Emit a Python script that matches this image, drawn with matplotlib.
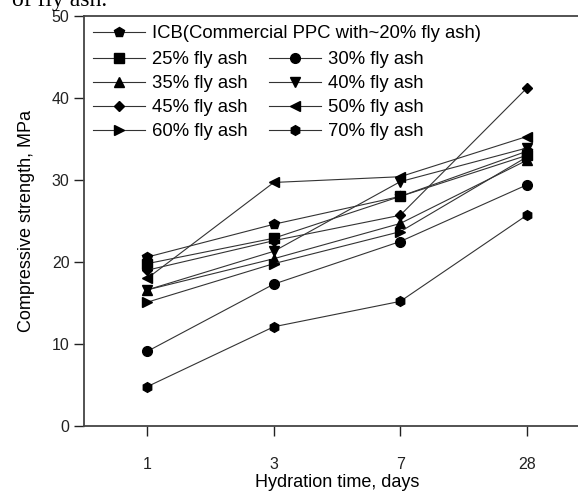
import matplotlib.pyplot as plt

# hydration time categories (days) and strength values (MPa)
days = ["1", "3", "7", "28"]

icb = [20.6, 24.6, 28.0, 33.5]
fa25 = [19.8, 22.9, 28.0, 33.0]
fa30 = [9.1, 17.3, 22.5, 29.4]
fa35 = [16.6, 20.4, 24.7, 32.4]
fa40 = [16.6, 21.3, 29.8, 33.9]
fa45 = [19.0, 22.6, 25.7, 41.2]
fa50 = [18.0, 29.7, 30.4, 35.3]
fa60 = [15.1, 19.8, 23.7, 32.8]
fa70 = [4.8, 12.1, 15.2, 25.7]

labels = ["ICB(Commercial PPC with~20% fly ash)", "25% fly ash", "30% fly ash",
          "35% fly ash", "40% fly ash", "45% fly ash", "50% fly ash",
          "60% fly ash", "70% fly ash"]
series = [icb, fa25, fa30, fa35, fa40, fa45, fa50, fa60, fa70]
markers = ["p", "s", "o", "^", "v", "D", "<", ">", "h"]

plt.rcParams['font.family'] = ['Liberation Sans', 'DejaVu Sans']

fig = plt.figure(figsize=(5.78, 4.93), dpi=100)
ax = fig.add_axes([84 / 578, 67 / 493, 506 / 578, 410 / 493])

x = list(range(len(days)))
handles = []
for vals, m, lab in zip(series, markers, labels):
    ms = 5.5 if m == "D" else 7
    h, = ax.plot(x, vals, color="#333333", lw=0.8, marker=m, ms=ms,
                 mfc="black", mec="black", label=lab)
    handles.append(h)

ax.set_xlim(-0.5, 3.5)
ax.set_ylim(0, 50)
ax.set_xticks(x)
ax.set_xticklabels(days)
ax.set_yticks([0, 10, 20, 30, 40, 50])
ax.tick_params(direction="out", length=7, width=1, labelsize=11.5, colors="#222222")
ax.tick_params(axis="x", pad=15)
for s in ["left", "bottom", "top", "right"]:
    ax.spines[s].set_color("#444444")
    ax.spines[s].set_linewidth(1.3)

ax.set_xlabel("Hydration time, days", fontsize=13, labelpad=2)
ax.set_ylabel("Compressive strength, MPa", fontsize=13, labelpad=12)

leg_kw = dict(frameon=False, fontsize=13.3, handlelength=2.8, handletextpad=0.4,
              borderpad=0, borderaxespad=0, labelspacing=0.38,
              bbox_transform=fig.transFigure, loc="upper left")
leg1 = ax.legend([handles[0]], [labels[0]], bbox_to_anchor=(93 / 578, 1 - 25 / 493), **leg_kw)
ax.add_artist(leg1)
order = [1, 3, 5, 7, 2, 4, 6, 8]
ax.legend([handles[i] for i in order], [labels[i] for i in order], ncol=2,
          columnspacing=1.15, bbox_to_anchor=(93 / 578, 1 - 51 / 493), **leg_kw)

# bottom of the caption line above the figure, cut off by the crop
fig.text(107 / 578, 1 - 6 / 493, "of fly ash.", ha="right", va="baseline",
         fontsize=17, family="Liberation Serif")

fig.savefig("out.png", dpi=100)
